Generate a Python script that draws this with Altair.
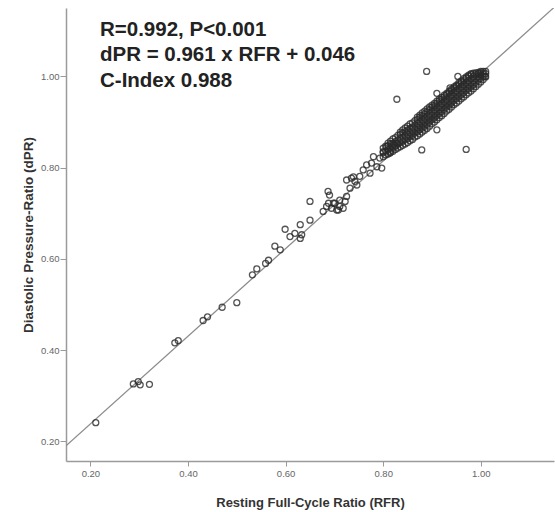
import altair as alt
import pandas as pd

# ---- individually visible points (RFR, dPR) ----
rfr = [
    0.211, 0.288, 0.298, 0.302, 0.321, 0.373, 0.380, 0.431, 0.440, 0.470, 0.500,
    0.532, 0.541, 0.559, 0.565, 0.578, 0.589, 0.599, 0.609, 0.619, 0.630, 0.633, 0.630,
    0.650, 0.650, 0.677, 0.690, 0.688, 0.701, 0.711, 0.694, 0.708, 0.722, 0.725,
    0.687, 0.684, 0.698, 0.711, 0.718, 0.705, 0.732, 0.735, 0.742, 0.752, 0.746,
    0.759, 0.766, 0.776, 0.773, 0.787, 0.797, 0.800, 0.807, 0.814, 0.821, 0.828,
    0.793, 0.780, 0.725, 0.739,
    # outliers / edge points
    0.828, 0.889, 0.879, 0.910, 0.970, 0.910, 0.937, 0.953, 1.009,
]
dpr = [
    0.241, 0.326, 0.331, 0.324, 0.325, 0.416, 0.421, 0.465, 0.473, 0.494, 0.504,
    0.565, 0.578, 0.590, 0.597, 0.628, 0.620, 0.665, 0.649, 0.656, 0.675, 0.653, 0.645,
    0.685, 0.726, 0.704, 0.740, 0.722, 0.722, 0.715, 0.711, 0.707, 0.726, 0.737,
    0.748, 0.715, 0.722, 0.729, 0.711, 0.707, 0.755, 0.777, 0.770, 0.781, 0.762,
    0.795, 0.806, 0.810, 0.788, 0.802, 0.799, 0.835, 0.846, 0.832, 0.850, 0.854,
    0.821, 0.824, 0.773, 0.780,
    0.950, 1.011, 0.839, 0.883, 0.840, 0.963, 0.975, 1.000, 1.000,
]

# ---- dense band: RFR column -> dPR values seen in that column ----
band_rfr = [
    0.800, 0.805, 0.810, 0.815, 0.820, 0.825, 0.830, 0.835, 0.840, 0.845,
    0.850, 0.855, 0.860, 0.865, 0.870, 0.875, 0.880, 0.885, 0.890, 0.895,
    0.900, 0.905, 0.910, 0.915, 0.920, 0.925, 0.930, 0.935, 0.940, 0.945,
    0.950, 0.955, 0.960, 0.965, 0.970, 0.975, 0.980, 0.985, 0.990, 0.995,
    1.000, 1.005, 1.010,
]
band_dpr = [
    [0.824, 0.833, 0.843],
    [0.828, 0.837, 0.847],
    [0.830, 0.839, 0.848, 0.854],
    [0.834, 0.843, 0.852, 0.858],
    [0.836, 0.845, 0.854, 0.863],
    [0.840, 0.848, 0.857, 0.866],
    [0.843, 0.852, 0.861, 0.871],
    [0.846, 0.855, 0.864, 0.873, 0.878],
    [0.849, 0.858, 0.867, 0.876, 0.883],
    [0.852, 0.861, 0.870, 0.879, 0.887],
    [0.855, 0.864, 0.873, 0.882, 0.891],
    [0.859, 0.868, 0.877, 0.886, 0.896],
    [0.862, 0.871, 0.880, 0.889, 0.898],
    [0.867, 0.876, 0.885, 0.894, 0.903],
    [0.870, 0.879, 0.888, 0.897, 0.906, 0.911],
    [0.874, 0.883, 0.892, 0.901, 0.910, 0.915],
    [0.878, 0.887, 0.896, 0.905, 0.914, 0.920],
    [0.882, 0.891, 0.900, 0.909, 0.918, 0.924],
    [0.886, 0.895, 0.904, 0.913, 0.922, 0.929],
    [0.891, 0.900, 0.909, 0.918, 0.927, 0.933],
    [0.896, 0.905, 0.914, 0.923, 0.932, 0.937],
    [0.900, 0.909, 0.918, 0.927, 0.936, 0.941],
    [0.905, 0.914, 0.923, 0.932, 0.941, 0.946],
    [0.910, 0.919, 0.928, 0.937, 0.946, 0.950],
    [0.914, 0.923, 0.932, 0.941, 0.950, 0.954],
    [0.919, 0.928, 0.937, 0.946, 0.955, 0.959],
    [0.924, 0.933, 0.942, 0.951, 0.960, 0.963],
    [0.928, 0.937, 0.946, 0.955, 0.964, 0.968],
    [0.933, 0.942, 0.951, 0.960, 0.969, 0.972],
    [0.938, 0.947, 0.956, 0.965, 0.974, 0.977],
    [0.942, 0.951, 0.960, 0.969, 0.978, 0.981],
    [0.946, 0.955, 0.964, 0.973, 0.982, 0.986],
    [0.951, 0.960, 0.969, 0.978, 0.987, 0.990],
    [0.955, 0.964, 0.973, 0.982, 0.991, 0.995],
    [0.960, 0.969, 0.978, 0.987, 0.996, 0.999],
    [0.964, 0.973, 0.982, 0.991, 1.000, 1.003],
    [0.968, 0.977, 0.986, 0.995, 1.004, 1.006],
    [0.973, 0.982, 0.991, 1.000, 1.007],
    [0.978, 0.987, 0.996, 1.004, 1.008],
    [0.983, 0.992, 1.000, 1.006, 1.009],
    [0.988, 0.996, 1.003, 1.008, 1.011],
    [0.993, 1.000, 1.006, 1.011],
    [0.999, 1.006, 1.011],
]

# regression line from the printed equation
slope = 0.961
intercept = 0.046
line_rfr = [0.15, 1.15]

annotation = ["R=0.992, P<0.001", "dPR = 0.961 x RFR + 0.046", "C-Index 0.988"]
tick_values = [0.2, 0.4, 0.6, 0.8, 1.0]
x_title = "Resting Full-Cycle Ratio (RFR)"
y_title = "Diastolic Pressure-Ratio (dPR)"

all_rfr = list(rfr)
all_dpr = list(dpr)
for r, col in zip(band_rfr, band_dpr):
    for d in col:
        all_rfr.append(r)
        all_dpr.append(d)

df = pd.DataFrame({"RFR": all_rfr, "dPR": all_dpr})
line_df = pd.DataFrame({"RFR": line_rfr, "dPR": [slope * v + intercept for v in line_rfr]})

W, H = 488, 453
xscale = alt.Scale(domain=[0.15, 1.15], nice=False, zero=False)
yscale = alt.Scale(domain=[0.157, 1.15], nice=False, zero=False)

xaxis = alt.Axis(values=tick_values, format=".2f", title=x_title, grid=False,
                 tickSize=5, labelPadding=2, titleY=41, titleBaseline="middle",
                 titleFontSize=13)
yaxis = alt.Axis(values=tick_values, format=".2f", title=y_title, grid=False,
                 tickSize=6, labelPadding=1, titleX=-38, titleBaseline="middle",
                 titleFontSize=13.5)

points = alt.Chart(df).mark_point(
    shape="circle", filled=False, size=36, strokeWidth=1.3, color="#2a2a2a", opacity=0.8
).encode(
    x=alt.X("RFR:Q", scale=xscale, axis=xaxis),
    y=alt.Y("dPR:Q", scale=yscale, axis=yaxis),
)

line = alt.Chart(line_df).mark_line(color="#8c8c8c", strokeWidth=1.3, clip=True).encode(
    x=alt.X("RFR:Q", scale=xscale),
    y=alt.Y("dPR:Q", scale=yscale),
)

text_layers = []
for i, lab in enumerate(annotation):
    text_layers.append(
        alt.Chart(pd.DataFrame({"label": [lab]})).mark_text(
            align="left", baseline="alphabetic", fontSize=20.5, fontWeight="bold",
            font="Liberation Sans", color="#222222"
        ).encode(x=alt.value(34), y=alt.value(28 + 25.3 * i), text="label:N")
    )

chart = alt.layer(line, points, *text_layers).properties(
    width=W, height=H,
    autosize=alt.AutoSizeParams(type="none"),
    padding={"left": 66, "top": 8, "right": 1, "bottom": 51},
).configure_view(stroke=None).configure_axis(
    domainColor="#9a9a9a", domainWidth=1.5, tickColor="#9a9a9a", tickWidth=1,
    labelFont="Liberation Sans", labelFontSize=9.5, labelColor="#666666",
    titleFont="Liberation Sans", titleFontWeight="bold", titleColor="#333333",
)

chart.save("out.html", embed_options={"renderer": "svg", "actions": False})
